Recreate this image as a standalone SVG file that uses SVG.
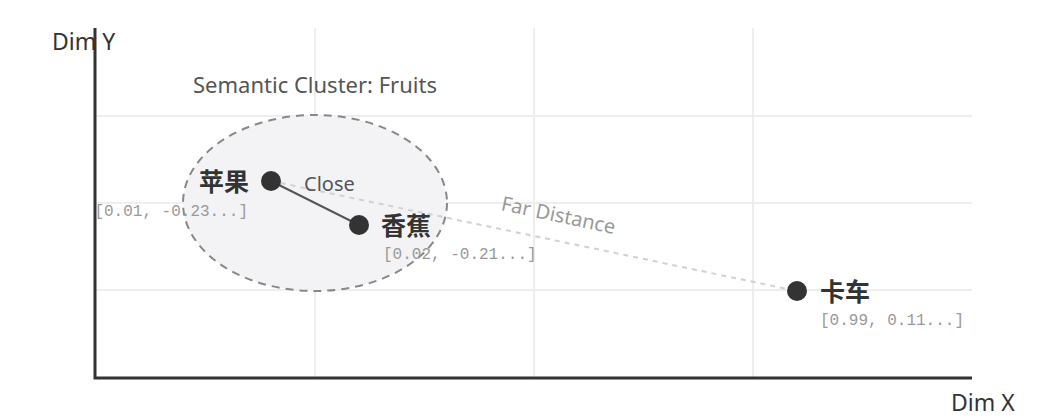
<svg xmlns="http://www.w3.org/2000/svg" width="1057" height="420" viewBox="0 0 1057 420">
<style>
.grid{stroke:#eeeeee;stroke-width:2}
.axis{stroke:#333;stroke-width:3;fill:none}
.lbl{font-family:"Noto Sans","Open Sans",sans-serif;font-size:23px;fill:#333}
.title{font-family:"Noto Sans","Open Sans",sans-serif;font-size:22px;fill:#555}
.word{font-family:"Noto Sans CJK SC",sans-serif;font-size:25px;font-weight:bold;fill:#333}
.vec{font-family:"Liberation Mono",monospace;font-size:16px;fill:#999}
.pt{fill:#333}
</style>
<rect width="1057" height="420" fill="#fff"/>
<g id="grid">
<line class="grid" x1="315" y1="28" x2="315" y2="378"/>
<line class="grid" x1="534" y1="28" x2="534" y2="378"/>
<line class="grid" x1="753" y1="28" x2="753" y2="378"/>
<line class="grid" x1="95" y1="116" x2="972" y2="116"/>
<line class="grid" x1="95" y1="203" x2="972" y2="203"/>
<line class="grid" x1="95" y1="290" x2="972" y2="290"/>
</g>
<g id="cluster">
<ellipse cx="315" cy="203" rx="132" ry="88" fill="#f3f3f5" stroke="#888" stroke-width="2" stroke-dasharray="8,6"/>
<text class="title" x="315" y="93" text-anchor="middle">Semantic Cluster: Fruits</text>
</g>
<g id="axes">
<path class="axis" d="M95 28 V378 H972"/>
<text class="lbl" x="52" y="50">Dim Y</text>
<text class="lbl" x="951" y="411">Dim X</text>
</g>
<g id="connectors">
<line x1="271" y1="181" x2="797" y2="291" stroke="#d0d0d8" stroke-width="2" stroke-dasharray="5,5"/>
<line x1="271" y1="181" x2="359" y2="225" stroke="#555" stroke-width="2"/>
<text x="304" y="191" font-family="Noto Sans,sans-serif" font-size="20" fill="#555">Close</text>
<text x="557" y="222" font-family="Noto Sans,sans-serif" font-size="20" fill="#999" text-anchor="middle" transform="rotate(12 557 222)">Far Distance</text>
</g>
<g id="apple">
<circle class="pt" cx="271" cy="181" r="10"/>
<text class="word" x="249" y="191" text-anchor="end">苹果</text>
<text class="vec" x="248" y="216" text-anchor="end">[0.01, -0.23...]</text>
</g>
<g id="banana">
<circle class="pt" cx="359" cy="225" r="10"/>
<text class="word" x="381" y="235">香蕉</text>
<text class="vec" x="383" y="259">[0.02, -0.21...]</text>
</g>
<g id="truck">
<circle class="pt" cx="797" cy="291" r="10"/>
<text class="word" x="820" y="301">卡车</text>
<text class="vec" x="820" y="325">[0.99, 0.11...]</text>
</g>
</svg>
